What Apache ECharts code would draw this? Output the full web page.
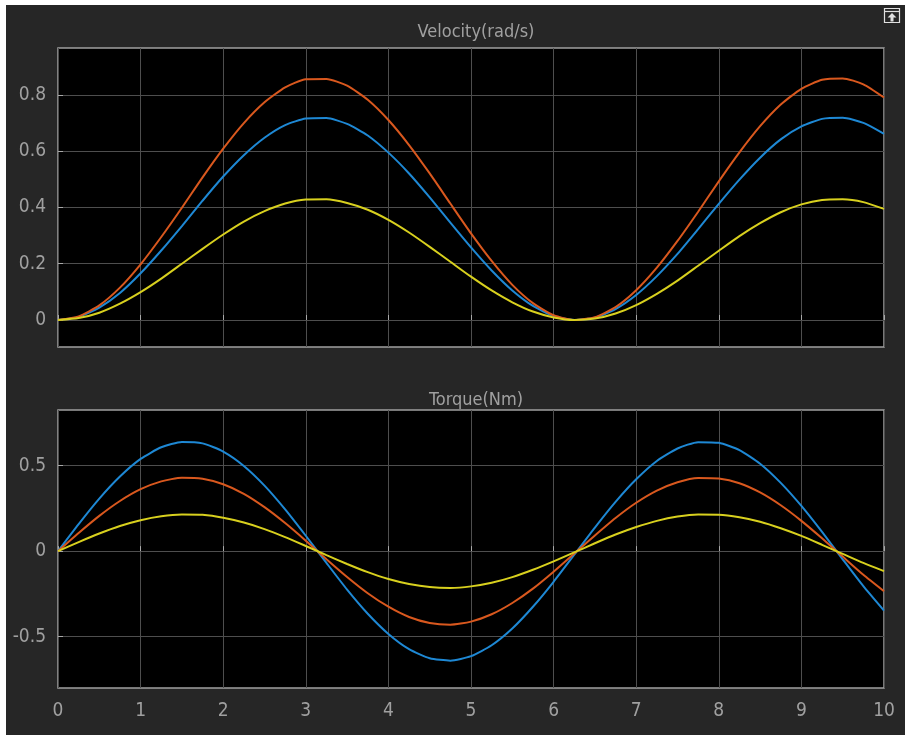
<!DOCTYPE html>
<html>
<head>
<meta charset="utf-8">
<script src="https://cdn.jsdelivr.net/npm/echarts@6/dist/echarts.min.js"></script>
<style>
  html, body { margin: 0; padding: 0; background: #fff; }
  #chart { position: absolute; left: 6px; top: 5px; width: 899px; height: 730px; }
</style>
</head>
<body>
<div id="chart"></div>
<script>
// sample positions (s), every 0.25
const xValues = [0, 0.25, 0.5, 0.75, 1, 1.25, 1.5, 1.75, 2, 2.25, 2.5, 2.75, 3, 3.25, 3.5, 3.75, 4, 4.25, 4.5, 4.75,
  5, 5.25, 5.5, 5.75, 6, 6.25, 6.5, 6.75, 7, 7.25, 7.5, 7.75, 8, 8.25, 8.5, 8.75, 9, 9.25, 9.5, 9.75, 10]

// Velocity(rad/s)
const velocityBlue = [0, 0.011, 0.044, 0.096, 0.166, 0.247, 0.334, 0.424, 0.510, 0.586, 0.648, 0.693, 0.716, 0.718, 0.697, 0.656, 0.595, 0.521, 0.436, 0.346,
  0.258, 0.176, 0.105, 0.050, 0.014, 0.000, 0.008, 0.039, 0.089, 0.156, 0.235, 0.323, 0.413, 0.499, 0.577, 0.642, 0.688, 0.715, 0.719, 0.701, 0.662]
const velocityOrange = [0, 0.013, 0.052, 0.115, 0.198, 0.295, 0.399, 0.507, 0.609, 0.700, 0.774, 0.827, 0.856, 0.857, 0.833, 0.783, 0.711, 0.622, 0.521, 0.414,
  0.308, 0.210, 0.125, 0.060, 0.017, 0.000, 0.010, 0.046, 0.106, 0.186, 0.281, 0.385, 0.493, 0.596, 0.689, 0.766, 0.822, 0.854, 0.859, 0.838, 0.791]
const velocityYellow = [0, 0.007, 0.026, 0.058, 0.099, 0.147, 0.200, 0.253, 0.304, 0.350, 0.387, 0.414, 0.428, 0.429, 0.416, 0.392, 0.356, 0.311, 0.260, 0.207,
  0.154, 0.105, 0.063, 0.030, 0.009, 0.000, 0.005, 0.023, 0.053, 0.093, 0.140, 0.193, 0.246, 0.298, 0.344, 0.383, 0.411, 0.427, 0.429, 0.419, 0.395]

// Torque(Nm)
const torqueBlue = [0, 0.158, 0.307, 0.436, 0.539, 0.607, 0.638, 0.630, 0.582, 0.498, 0.383, 0.244, 0.090, -0.069, -0.225, -0.366, -0.484, -0.573, -0.626, -0.640,
  -0.614, -0.550, -0.452, -0.325, -0.179, -0.021, 0.138, 0.288, 0.420, 0.527, 0.600, 0.637, 0.633, 0.591, 0.511, 0.399, 0.264, 0.112, -0.048, -0.205, -0.348]
const torqueOrange = [0, 0.106, 0.206, 0.293, 0.362, 0.408, 0.429, 0.423, 0.391, 0.335, 0.257, 0.164, 0.061, -0.047, -0.151, -0.246, -0.325, -0.385, -0.420, -0.430,
  -0.412, -0.369, -0.303, -0.219, -0.120, -0.014, 0.092, 0.194, 0.283, 0.354, 0.403, 0.428, 0.425, 0.397, 0.343, 0.268, 0.177, 0.075, -0.032, -0.138, -0.234]
const torqueYellow = [0, 0.053, 0.103, 0.147, 0.181, 0.204, 0.214, 0.212, 0.195, 0.167, 0.129, 0.082, 0.030, -0.023, -0.075, -0.123, -0.163, -0.192, -0.210, -0.215,
  -0.206, -0.185, -0.152, -0.109, -0.060, -0.007, 0.046, 0.097, 0.141, 0.177, 0.202, 0.214, 0.213, 0.198, 0.172, 0.134, 0.089, 0.037, -0.016, -0.069, -0.117]

// tick labels
const velocityTicks = [0, 0.2, 0.4, 0.6, 0.8]
const torqueTicks = [-0.5, 0, 0.5]

const textColor = '#a0a0a0'
const gridColor = '#4e4e4e'
const fontFamily = '"Liberation Sans Narrow", "DejaVu Sans Condensed", "Liberation Sans", sans-serif'
const colors = { blue: '#1e88d4', orange: '#d9581e', yellow: '#d8d01e' }

function pairs(ys) {
  return xValues.map((x, i) => [x, ys[i]])
}

function lineSeries(ys, color, axisIndex) {
  return {
    type: 'line',
    xAxisIndex: axisIndex,
    yAxisIndex: axisIndex,
    data: pairs(ys),
    smooth: 0.2,
    showSymbol: false,
    lineStyle: { color: color, width: 2 },
    animation: false
  }
}

function xAxis(gridIndex, showLabels) {
  return {
    type: 'value',
    gridIndex: gridIndex,
    min: 0,
    max: 10,
    interval: 1,
    axisLine: { show: false },
    axisTick: { show: true, inside: true, length: 5, lineStyle: { color: '#a8a8a8' } },
    axisLabel: { show: showLabels, color: textColor, fontSize: 19, fontFamily: fontFamily, margin: 14 },
    splitLine: { show: true, lineStyle: { color: gridColor, width: 1 } }
  }
}

function yAxis(gridIndex, min, max, ticks) {
  return {
    type: 'value',
    gridIndex: gridIndex,
    min: min,
    max: max,
    axisLine: { show: false },
    axisTick: { show: true, inside: true, length: 5, customValues: ticks, lineStyle: { color: '#a8a8a8' } },
    axisLabel: { color: textColor, fontSize: 19, fontFamily: fontFamily, margin: 12, customValues: ticks },
    splitLine: { show: true, lineStyle: { color: gridColor, width: 1 } }
  }
}

const chart = echarts.init(document.getElementById('chart'))

chart.setOption({
  backgroundColor: '#262626',
  title: [{
    text: 'Velocity(rad/s)',
    left: 465,
    top: 13,
    textAlign: 'center',
    textStyle: { color: textColor, fontSize: 18, fontWeight: 'normal', fontFamily: fontFamily }
  }, {
    text: 'Torque(Nm)',
    left: 465,
    top: 381,
    textAlign: 'center',
    textStyle: { color: textColor, fontSize: 18, fontWeight: 'normal', fontFamily: fontFamily }
  }],
  grid: [{
    left: 52,
    right: 21,
    top: 43,
    height: 299,
    show: true,
    backgroundColor: '#000',
    borderColor: '#a0a0a0',
    borderWidth: 1.5
  }, {
    left: 52,
    right: 21,
    top: 405,
    height: 278,
    show: true,
    backgroundColor: '#000',
    borderColor: '#a0a0a0',
    borderWidth: 1.5
  }],
  xAxis: [xAxis(0, false), xAxis(1, true)],
  yAxis: [
    yAxis(0, -0.096, 0.967, velocityTicks),
    yAxis(1, -0.80, 0.825, torqueTicks)
  ],
  series: [
    lineSeries(velocityBlue, colors.blue, 0),
    lineSeries(velocityOrange, colors.orange, 0),
    lineSeries(velocityYellow, colors.yellow, 0),
    lineSeries(torqueBlue, colors.blue, 1),
    lineSeries(torqueOrange, colors.orange, 1),
    lineSeries(torqueYellow, colors.yellow, 1)
  ],
  graphic: [{
    type: 'group',
    right: 3,
    top: 1,
    children: [{
      type: 'rect',
      shape: { x: 0, y: 0, width: 15, height: 14 },
      style: { fill: 'none', stroke: '#e0e0e0', lineWidth: 1.2 }
    }, {
      type: 'line',
      shape: { x1: 0, y1: 3, x2: 15, y2: 3 },
      style: { stroke: '#e0e0e0', lineWidth: 1.2 }
    }, {
      type: 'polygon',
      shape: { points: [[7.5, 4.5], [3, 9], [6, 9], [6, 13], [9, 13], [9, 9], [12, 9]] },
      style: { fill: '#e0e0e0' }
    }]
  }]
})
</script>
</body>
</html>
